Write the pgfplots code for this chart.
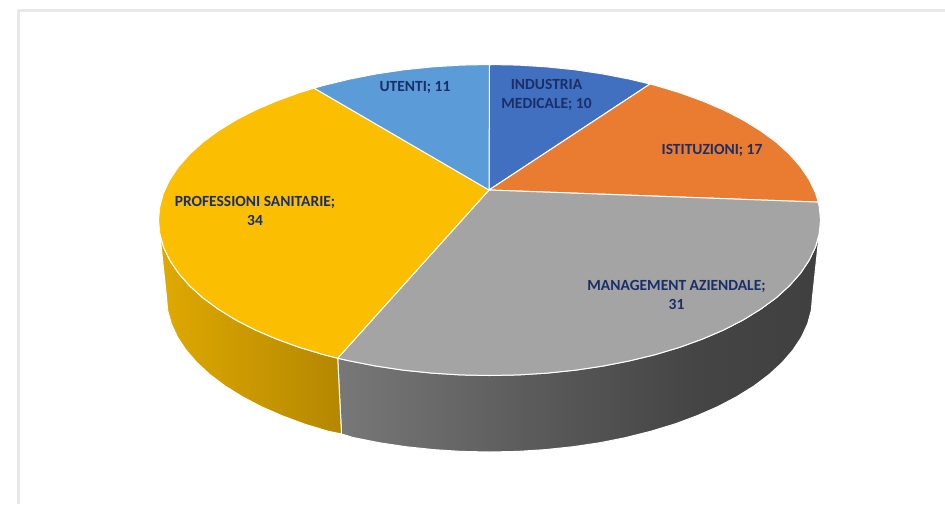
\documentclass[border=0pt]{standalone}
\usepackage{pgfplots}
\pgfplotsset{compat=1.18}
\usepackage{fontspec}
\setmainfont{Carlito}
\definecolor{cblue}{HTML}{4270C0}
\definecolor{corange}{HTML}{E97C30}
\definecolor{cgray}{HTML}{A4A4A4}
\definecolor{cyellow}{HTML}{FBBE00}
\definecolor{clblue}{HTML}{5B9BD7}
\definecolor{ctext}{HTML}{1A2E68}
\definecolor{cframe}{HTML}{E8E8E8}
\definecolor{yl}{HTML}{DFA900}
\definecolor{yr}{HTML}{B48700}
\pgfdeclarehorizontalshading{graysh}{100bp}{color(0bp)=(black!53); color(25bp)=(black!53); color(50bp)=(black!67); color(62bp)=(black!73); color(75bp)=(black!75); color(100bp)=(black!75)}
\pgfdeclarehorizontalshading{yellowsh}{100bp}{color(0bp)=(yl); color(25bp)=(yl); color(75bp)=(yr); color(100bp)=(yr)}
\begin{document}
\begin{tikzpicture}
\useasboundingbox (0,0) rectangle (945pt,504pt);
\begin{axis}[
  at={(0,0)}, anchor=south west,
  scale only axis, width=945pt, height=504pt,
  xmin=0, xmax=945, ymin=0, ymax=504, y dir=reverse,
  hide axis, clip=true,
  every axis plot/.append style={line join=round},
]
% frame
\addplot[cframe, line width=3pt] coordinates {(18.5,504)(18.5,10.5)(945,10.5)};
% side: management aziendale
\addplot[draw=white, line width=1pt, shade, shading=graysh] coordinates {
(819.2,233.6)(815.5,247)(809.2,260.2)(800.5,273.2)(789.5,285.7)(776.2,297.8)(760.6,309.2)(743.1,320)(723.6,330)(702.3,339.1)(679.4,347.4)(655,354.7)(629.4,360.9)(602.7,366.1)(575.2,370.2)(547,373.1)(518.3,374.9)(489.5,375.5)(460.7,374.9)(432,373.1)(403.8,370.2)(376.3,366.1)(349.6,360.9)(337.7,358.2)
(341.5,434)(353,437.5)(379,442.7)(405.9,446.7)(433.4,449.6)(461.3,451.4)(489.5,452)(517.7,451.4)(545.6,449.6)(573.1,446.7)(600,442.7)(626,437.5)(651,431.2)(674.8,424)(697.1,415.7)(717.9,406.6)(736.9,396.6)(754.1,385.9)(769.2,374.5)(782.2,362.5)(793,350)(801.5,337.1)(807.6,323.9)(811.3,310.5)(812.5,297)
} -- cycle;
% side: professioni sanitarie
\addplot[draw=white, line width=1pt, shade, shading=yellowsh] coordinates {
(337.7,358.2)(324,354.7)(299.6,347.4)(276.7,339.1)(255.4,330)(235.9,320)(218.4,309.2)(202.8,297.8)(189.5,285.7)(178.5,273.2)(169.8,260.2)(163.5,247)(159.8,233.6)
(166.5,297)(167.7,310.5)(171.4,323.9)(177.5,337.1)(186,350)(196.8,362.5)(209.8,374.5)(224.9,385.9)(242.1,396.6)(261.1,406.6)(281.9,415.7)(304.2,424)(328,431.2)(341.5,434)
} -- cycle;
% top: industria medicale (10)
\addplot[draw=white, line width=1pt, fill=cblue] coordinates {
(489,190)(489.5,64.5)(518.3,65.1)(547,66.9)(575.2,69.8)(602.7,73.9)(629.4,79.1)(650,84)
} -- cycle;
% top: istituzioni (17)
\addplot[draw=white, line width=1pt, fill=corange] coordinates {
(489,190)(650,84)(655,85.3)(679.4,92.6)(702.3,100.9)(723.6,110)(743.1,120)(760.6,130.8)(776.2,142.2)(789.5,154.3)(800.5,166.8)(809.2,179.8)(815.5,193)(818.3,202.1)
} -- cycle;
% top: management aziendale (31)
\addplot[draw=white, line width=1pt, fill=cgray] coordinates {
(489,190)(818.3,202.1)(819.2,206.4)(820.5,220)(819.2,233.6)(815.5,247)(809.2,260.2)(800.5,273.2)(789.5,285.7)(776.2,297.8)(760.6,309.2)(743.1,320)(723.6,330)(702.3,339.1)(679.4,347.4)(655,354.7)(629.4,360.9)(602.7,366.1)(575.2,370.2)(547,373.1)(518.3,374.9)(489.5,375.5)(460.7,374.9)(432,373.1)(403.8,370.2)(376.3,366.1)(349.6,360.9)(337.7,358.2)
} -- cycle;
% top: professioni sanitarie (34)
\addplot[draw=white, line width=1pt, fill=cyellow] coordinates {
(489,190)(337.7,358.2)(324,354.7)(299.6,347.4)(276.7,339.1)(255.4,330)(235.9,320)(218.4,309.2)(202.8,297.8)(189.5,285.7)(178.5,273.2)(169.8,260.2)(163.5,247)(159.8,233.6)(158.5,220)(159.8,206.4)(163.5,193)(169.8,179.8)(178.5,166.8)(189.5,154.3)(202.8,142.2)(218.4,130.8)(235.9,120)(255.4,110)(276.7,100.9)(299.6,92.6)(314.1,88.1)
} -- cycle;
% top: utenti (11)
\addplot[draw=white, line width=1pt, fill=clblue] coordinates {
(489,190)(314.1,88.1)(324,85.3)(349.6,79.1)(376.3,73.9)(403.8,69.8)(432,66.9)(460.7,65.1)(489.5,64.5)
} -- cycle;
% labels
\tikzset{lab/.style={text=ctext, font=\fontsize{15.5pt}{19pt}\selectfont\bfseries, align=center, inner sep=0pt}}
\node[lab] at (axis cs:546.5,95) {INDUSTRIA\\MEDICALE; 10};
\node[lab] at (axis cs:415,88) {UTENTI; 11};
\node[lab] at (axis cs:712,150.5) {ISTITUZIONI; 17};
\node[lab] at (axis cs:255,211) {PROFESSIONI SANITARIE;\\34};
\node[lab] at (axis cs:676.5,295) {MANAGEMENT AZIENDALE;\\31};
\end{axis}
\end{tikzpicture}
\end{document}
